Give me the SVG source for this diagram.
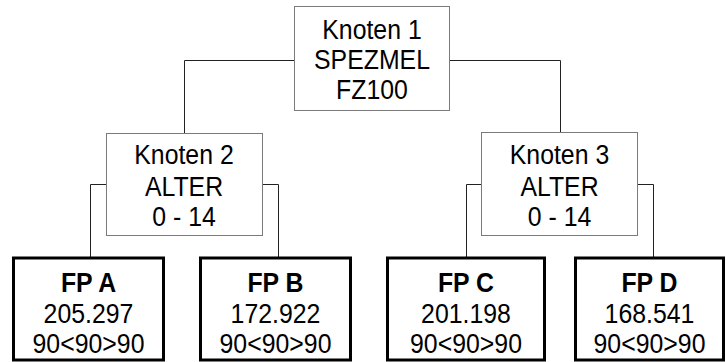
<svg xmlns="http://www.w3.org/2000/svg" width="726" height="362" viewBox="0 0 726 362">
<style>
.box{fill:#fff;stroke:#7a7a7a;stroke-width:1}
.leaf{fill:#fff;stroke:#000;stroke-width:3}
.t{font-family:"Liberation Sans",Arial,sans-serif;font-size:27px;fill:#000;text-anchor:middle}
.b{font-weight:bold}
.c{fill:none;stroke:#222;stroke-width:1}
</style>
<rect width="726" height="362" fill="#fff"/>
<g id="connectors">
<polyline class="c" points="294,60.5 184.5,60.5 184.5,133"/>
<polyline class="c" points="450,60.5 560.5,60.5 560.5,132"/>
<polyline class="c" points="106,184.5 90.5,184.5 90.5,257"/>
<polyline class="c" points="263,184.5 278.5,184.5 278.5,257"/>
<polyline class="c" points="481,184.5 466.5,184.5 466.5,257"/>
<polyline class="c" points="638,184.5 653.5,184.5 653.5,257"/>
</g>
<g id="n1"><rect class="box" x="294.5" y="6.5" width="155" height="104"/>
<text class="t" transform="translate(372,39.3) scale(0.92,1)">Knoten 1</text><text class="t" transform="translate(372,69.3) scale(0.92,1)">SPEZMEL</text><text class="t" transform="translate(372,98.7) scale(0.92,1)">FZ100</text></g>
<g id="n2"><rect class="box" x="106.5" y="133.5" width="156" height="102"/>
<text class="t" transform="translate(184,163.7) scale(0.92,1)">Knoten 2</text><text class="t" transform="translate(184,196.3) scale(0.92,1)">ALTER</text><text class="t" transform="translate(184,225.7) scale(0.92,1)">0 - 14</text></g>
<g id="n3"><rect class="box" x="481.5" y="132.5" width="156" height="103"/>
<text class="t" transform="translate(559.5,163.7) scale(0.92,1)">Knoten 3</text><text class="t" transform="translate(559.5,196.3) scale(0.92,1)">ALTER</text><text class="t" transform="translate(559.5,225.7) scale(0.92,1)">0 - 14</text></g>
<g id="fpa"><rect class="leaf" x="13.5" y="258" width="150" height="102"/>
<text class="t b" transform="translate(88.5,292) scale(0.92,1)">FP A</text><text class="t" transform="translate(88.5,322.5) scale(0.92,1)">205.297</text><text class="t" transform="translate(88.5,352.5) scale(0.92,1)">90&lt;90&gt;90</text></g>
<g id="fpb"><rect class="leaf" x="200.5" y="258" width="150" height="102"/>
<text class="t b" transform="translate(275.5,292) scale(0.92,1)">FP B</text><text class="t" transform="translate(275.5,322.5) scale(0.92,1)">172.922</text><text class="t" transform="translate(275.5,352.5) scale(0.92,1)">90&lt;90&gt;90</text></g>
<g id="fpc"><rect class="leaf" x="387.5" y="258" width="157" height="102"/>
<text class="t b" transform="translate(466,292) scale(0.92,1)">FP C</text><text class="t" transform="translate(466,322.5) scale(0.92,1)">201.198</text><text class="t" transform="translate(466,352.5) scale(0.92,1)">90&lt;90&gt;90</text></g>
<g id="fpd"><rect class="leaf" x="575.5" y="258" width="148" height="102"/>
<text class="t b" transform="translate(649.5,292) scale(0.92,1)">FP D</text><text class="t" transform="translate(649.5,322.5) scale(0.92,1)">168.541</text><text class="t" transform="translate(649.5,352.5) scale(0.92,1)">90&lt;90&gt;90</text></g>
</svg>
